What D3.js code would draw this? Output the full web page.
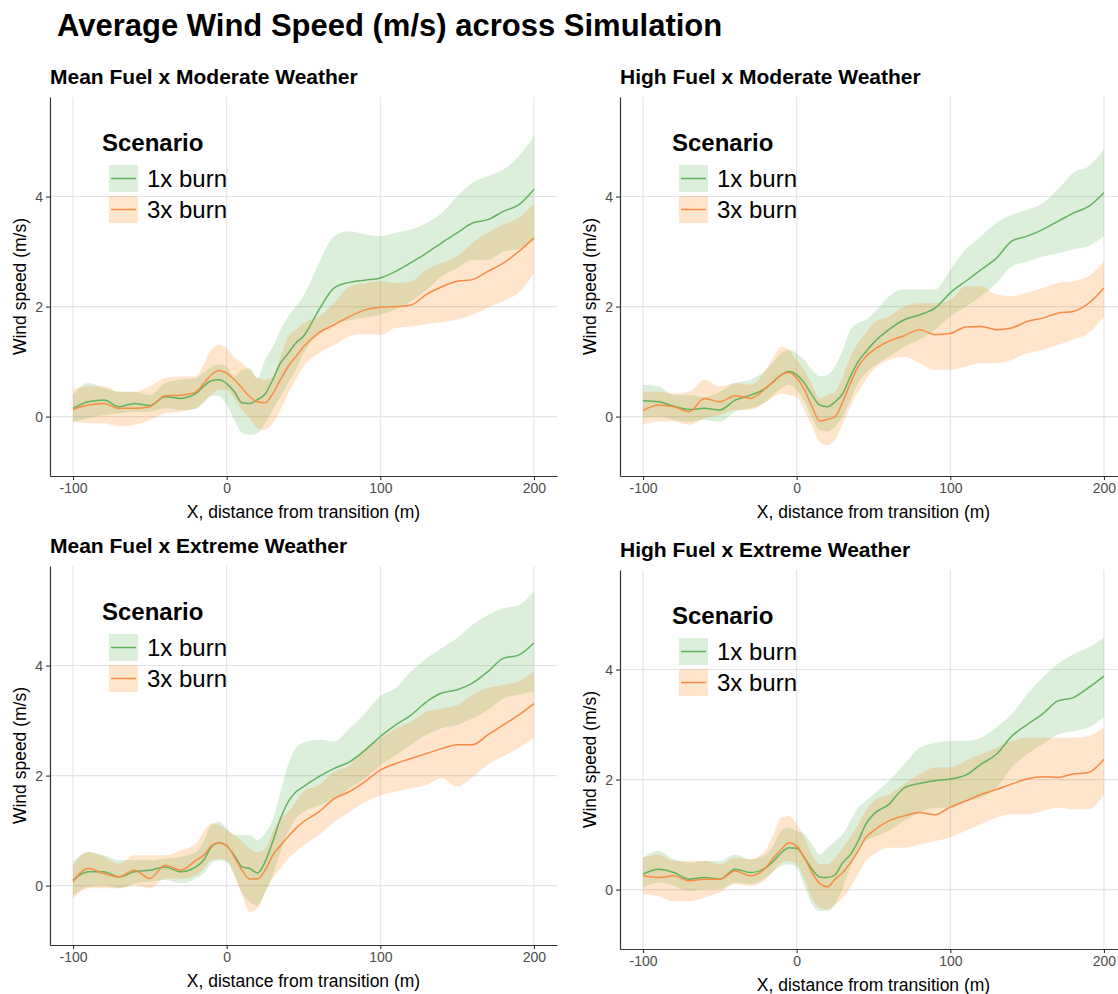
<!DOCTYPE html>
<html>
<head>
    <meta charset="utf-8">

    <!-- Load d3.js -->
    <script src="https://d3js.org/d3.v7.min.js"></script>

    <style>
        body {
            margin: 0;
            padding: 0;
            background: #ffffff;
        }

        text {
            font-family: "Liberation Sans", Arial, Helvetica, sans-serif;
        }
    </style>
</head>
<body>

<!-- Create a div where the graph will take place -->
<div id="my_dataviz"></div>

<script>
    var xs = [-100, -90, -80, -70, -60, -50, -40, -30, -20,
        -15, -10, -5, 0, 5, 10, 15, 20, 25, 30, 35, 40, 45, 50,
        60, 70, 80, 90, 100, 110, 120, 130, 140, 150, 160, 170, 180, 190, 200];

    var panelTitles = ["Mean Fuel x Moderate Weather", "High Fuel x Moderate Weather",
        "Mean Fuel x Extreme Weather", "High Fuel x Extreme Weather"];
    var scenarios = ["1x burn", "3x burn"];
    var xTicks = [-100, 0, 100, 200];
    var yTicks = [0, 2, 4];

    // Mean Fuel x Moderate Weather
    var p1_1x_mean = [0.15,0.27,0.30,0.18,0.24,0.20,0.36,0.33,0.42, 0.55,0.65,0.67,0.60,0.45,0.25,0.24,0.31,0.41,0.67,0.97,1.15,1.34,1.46, 1.94,2.34,2.44,2.48,2.52,2.64,2.80,2.97,3.16,3.34,3.52,3.58,3.73,3.85,4.13];
    var p1_1x_lo = [-0.09,-0.03,0.03,0.06,0.09,0.09,0.15,0.12,0.14, 0.25,0.38,0.38,0.21,-0.06,-0.30,-0.33,-0.30,-0.12,0.12,0.36,0.61,0.85,1.15, 1.50,1.70,1.75,1.80,1.85,1.95,2.10,2.30,2.55,2.70,2.85,2.85,3.00,3.05,3.20];
    var p1_1x_hi = [0.39,0.61,0.52,0.45,0.45,0.39,0.61,0.67,0.70, 0.80,0.90,0.95,0.90,0.73,0.85,0.88,0.70,1.03,1.27,1.58,1.82,2.00,2.19, 2.79,3.28,3.37,3.31,3.28,3.34,3.40,3.52,3.70,4.00,4.25,4.37,4.49,4.73,5.10];
    var p1_3x_mean = [0.13,0.21,0.24,0.15,0.15,0.18,0.38,0.39,0.45, 0.60,0.76,0.84,0.79,0.67,0.52,0.36,0.27,0.25,0.42,0.67,0.91,1.09,1.27, 1.52,1.67,1.82,1.94,1.99,2.00,2.03,2.22,2.36,2.46,2.49,2.64,2.79,3.00,3.25];
    var p1_3x_lo = [-0.09,-0.12,-0.12,-0.18,-0.15,-0.06,0.06,0.09,0.15, 0.27,0.39,0.49,0.49,0.33,0.12,-0.03,-0.21,-0.24,-0.12,0.12,0.42,0.67,0.91, 1.15,1.30,1.46,1.50,1.49,1.61,1.64,1.68,1.72,1.76,1.85,1.98,2.10,2.25,2.60];
    var p1_3x_hi = [0.49,0.55,0.55,0.45,0.45,0.55,0.70,0.73,0.73, 0.95,1.22,1.30,1.24,1.09,0.97,0.85,0.70,0.67,0.73,1.09,1.46,1.58,1.70, 1.82,2.06,2.37,2.43,2.46,2.43,2.46,2.67,2.79,2.91,3.16,3.34,3.49,3.61,3.88];

    // High Fuel x Moderate Weather
    var p2_1x_mean = [0.29,0.27,0.19,0.13,0.15,0.12,0.30,0.39,0.52, 0.64,0.76,0.82,0.76,0.61,0.39,0.21,0.18,0.27,0.42,0.73,1.00,1.18,1.34, 1.58,1.76,1.85,1.97,2.25,2.46,2.67,2.88,3.19,3.28,3.40,3.55,3.70,3.82,4.07];
    var p2_1x_lo = [-0.03,0.00,-0.06,-0.09,-0.06,-0.09,0.09,0.15,0.27, 0.40,0.52,0.58,0.49,0.27,-0.03,-0.24,-0.27,-0.18,0.00,0.30,0.61,0.79,0.91, 1.09,1.27,1.40,1.58,1.82,2.00,2.19,2.43,2.73,2.82,2.91,2.97,3.04,3.10,3.28];
    var p2_1x_hi = [0.58,0.55,0.39,0.39,0.36,0.45,0.61,0.67,0.85, 1.00,1.15,1.21,1.15,1.03,0.85,0.73,0.76,0.91,1.21,1.58,1.70,1.76,1.88, 2.19,2.31,2.31,2.31,2.67,3.04,3.28,3.52,3.67,3.76,3.88,4.13,4.43,4.55,4.86];
    var p2_3x_mean = [0.11,0.21,0.18,0.09,0.33,0.27,0.38,0.33,0.52, 0.64,0.76,0.80,0.70,0.49,0.18,-0.08,-0.05,0.00,0.27,0.61,0.91,1.09,1.21, 1.37,1.47,1.58,1.49,1.51,1.63,1.64,1.58,1.61,1.73,1.79,1.88,1.91,2.06,2.34];
    var p2_3x_lo = [-0.15,-0.09,-0.09,-0.15,-0.03,0.03,0.12,0.12,0.27, 0.36,0.42,0.39,0.36,0.12,-0.18,-0.46,-0.52,-0.42,-0.12,0.18,0.45,0.67,0.85, 1.03,1.09,0.97,0.85,0.85,0.91,0.97,0.97,1.03,1.15,1.21,1.30,1.40,1.52,1.82];
    var p2_3x_hi = [0.45,0.45,0.42,0.45,0.67,0.55,0.61,0.58,0.85, 1.09,1.27,1.21,1.03,0.85,0.58,0.33,0.39,0.45,0.73,1.09,1.34,1.52,1.70, 1.82,2.00,2.06,2.06,2.12,2.37,2.37,2.22,2.19,2.25,2.34,2.43,2.46,2.55,2.82];

    // Mean Fuel x Extreme Weather
    var p3_1x_mean = [0.10,0.25,0.25,0.16,0.25,0.28,0.34,0.25,0.34, 0.46,0.70,0.78,0.72,0.55,0.34,0.31,0.23,0.43,0.80,1.22,1.52,1.70,1.80, 1.98,2.13,2.25,2.46,2.71,2.92,3.10,3.34,3.50,3.56,3.68,3.89,4.13,4.19,4.41];
    var p3_1x_lo = [-0.18,-0.02,0.01,-0.05,0.04,0.07,0.10,0.04,0.13, 0.22,0.40,0.46,0.43,0.19,-0.12,-0.30,-0.36,-0.12,0.19,0.61,0.98,1.22,1.34, 1.46,1.58,1.77,1.95,2.19,2.37,2.56,2.74,2.86,2.92,3.04,3.19,3.40,3.47,3.53];
    var p3_1x_hi = [0.43,0.61,0.55,0.46,0.46,0.46,0.49,0.52,0.61, 0.80,1.10,1.16,1.04,0.92,0.92,0.92,0.83,0.95,1.20,1.70,2.20,2.50,2.60, 2.65,2.62,2.86,3.13,3.44,3.59,3.89,4.13,4.32,4.50,4.74,4.92,5.04,5.10,5.35];
    var p3_3x_mean = [0.07,0.31,0.22,0.16,0.28,0.13,0.37,0.28,0.46, 0.55,0.72,0.78,0.73,0.52,0.28,0.12,0.12,0.28,0.55,0.73,0.89,1.04,1.16, 1.34,1.58,1.71,1.89,2.10,2.22,2.31,2.40,2.49,2.56,2.56,2.74,2.92,3.10,3.31];
    var p3_3x_lo = [-0.24,-0.05,-0.05,-0.05,0.01,-0.05,0.13,0.13,0.19, 0.31,0.46,0.49,0.46,0.19,-0.18,-0.48,-0.42,-0.12,0.13,0.31,0.49,0.61,0.73, 0.92,1.16,1.34,1.52,1.64,1.71,1.77,1.83,1.95,1.80,1.97,2.20,2.35,2.50,2.68];
    var p3_3x_hi = [0.37,0.61,0.52,0.40,0.55,0.55,0.55,0.64,0.76, 0.98,1.13,1.10,1.01,0.92,0.80,0.67,0.61,0.67,0.98,1.22,1.34,1.52,1.71, 1.83,2.07,2.19,2.49,2.68,2.86,2.98,3.16,3.22,3.28,3.47,3.59,3.65,3.71,3.89];

    // High Fuel x Extreme Weather
    var p4_1x_mean = [0.28,0.37,0.31,0.19,0.22,0.19,0.37,0.31,0.40, 0.52,0.67,0.76,0.75,0.58,0.37,0.23,0.22,0.27,0.49,0.64,0.88,1.19,1.37, 1.55,1.85,1.93,1.98,2.01,2.08,2.28,2.46,2.79,3.00,3.19,3.43,3.49,3.67,3.88];
    var p4_1x_lo = [0.04,0.13,0.07,-0.02,0.01,0.01,0.13,0.10,0.22, 0.34,0.43,0.46,0.40,0.07,-0.27,-0.39,-0.39,-0.27,0.04,0.40,0.70,0.88,0.95, 1.07,1.25,1.40,1.49,1.49,1.61,1.67,1.85,2.22,2.46,2.64,2.82,2.88,2.95,3.13];
    var p4_1x_hi = [0.58,0.70,0.55,0.49,0.52,0.52,0.64,0.55,0.64, 0.82,1.07,1.13,1.07,1.01,0.82,0.64,0.76,0.88,1.01,1.25,1.49,1.61,1.73, 1.98,2.28,2.58,2.67,2.70,2.70,2.76,2.95,3.19,3.55,3.85,4.10,4.28,4.40,4.58];
    var p4_3x_mean = [0.25,0.22,0.25,0.16,0.19,0.19,0.34,0.25,0.40, 0.58,0.73,0.85,0.79,0.58,0.31,0.11,0.05,0.19,0.31,0.49,0.70,0.95,1.07, 1.25,1.34,1.40,1.36,1.50,1.61,1.73,1.82,1.92,2.01,2.05,2.04,2.10,2.13,2.37];
    var p4_3x_lo = [-0.08,-0.12,-0.21,-0.21,-0.15,-0.05,0.10,0.07,0.19, 0.34,0.49,0.52,0.46,0.19,-0.15,-0.33,-0.36,-0.27,-0.15,0.04,0.28,0.52,0.64, 0.76,0.76,0.82,0.88,0.95,1.07,1.19,1.31,1.37,1.37,1.43,1.49,1.46,1.46,1.73];
    var p4_3x_hi = [0.58,0.64,0.52,0.52,0.52,0.46,0.58,0.55,0.73, 1.01,1.31,1.34,1.19,0.95,0.64,0.46,0.46,0.58,0.76,0.95,1.19,1.43,1.61, 1.73,1.92,2.10,2.22,2.22,2.34,2.46,2.58,2.70,2.76,2.76,2.76,2.76,2.79,2.95];

    // build rows {x, mean, lo, hi} for one series
    function rows(mean, lo, hi) {
        return xs.map(function (x, i) { return { x: x, mean: mean[i], lo: lo[i], hi: hi[i] }; });
    }

    var panels = [
        [rows(p1_1x_mean, p1_1x_lo, p1_1x_hi), rows(p1_3x_mean, p1_3x_lo, p1_3x_hi)],
        [rows(p2_1x_mean, p2_1x_lo, p2_1x_hi), rows(p2_3x_mean, p2_3x_lo, p2_3x_hi)],
        [rows(p3_1x_mean, p3_1x_lo, p3_1x_hi), rows(p3_3x_mean, p3_3x_lo, p3_3x_hi)],
        [rows(p4_1x_mean, p4_1x_lo, p4_1x_hi), rows(p4_3x_mean, p4_3x_lo, p4_3x_hi)]
    ];

    // where each panel sits on the page
    var panelPos = [
        { left: 50, top: 97 },
        { left: 620, top: 97 },
        { left: 50, top: 566 },
        { left: 620, top: 570 }
    ];
    var pw = 507, ph = 379;

    var lineColor = d3.scaleOrdinal().domain(scenarios).range(["#62b25e", "#f88c44"]);
    var fillColor = d3.scaleOrdinal().domain(scenarios).range(["#4daf4a", "#ff7f00"]);

    var svg = d3.select("#my_dataviz")
        .append("svg")
        .attr("width", 1118)
        .attr("height", 994);

    // overall title
    svg.append("text")
        .attr("x", 57)
        .attr("y", 36)
        .style("font-size", "31px")
        .style("font-weight", "bold")
        .text("Average Wind Speed (m/s) across Simulation");

    var x = d3.scaleLinear().domain([-115, 215]).range([0, pw]);
    var y = d3.scaleLinear().domain([-1.08, 5.81]).range([ph, 0]);

    // plain integer labels with an ascii hyphen, like the original
    var plain = function (d) { return String(d); };

    var area = d3.area()
        .x(function (d) { return x(d.x); })
        .y0(function (d) { return y(d.lo); })
        .y1(function (d) { return y(d.hi); })
        .curve(d3.curveMonotoneX);

    var line = d3.line()
        .x(function (d) { return x(d.x); })
        .y(function (d) { return y(d.mean); })
        .curve(d3.curveMonotoneX);

    panels.forEach(function (series, p) {
        var g = svg.append("g")
            .attr("transform", "translate(" + panelPos[p].left + "," + panelPos[p].top + ")");

        // panel title, aligned with the plot area
        g.append("text")
            .attr("x", 0)
            .attr("y", -13)
            .style("font-size", "21px")
            .style("font-weight", "bold")
            .text(panelTitles[p]);

        // grid lines
        g.selectAll(".vgrid")
            .data(xTicks)
            .enter()
            .append("line")
            .attr("x1", function (d) { return x(d); })
            .attr("x2", function (d) { return x(d); })
            .attr("y1", 0)
            .attr("y2", ph)
            .style("stroke", "#e4e4e4")
            .style("stroke-width", 1.1);

        g.selectAll(".hgrid")
            .data(yTicks)
            .enter()
            .append("line")
            .attr("x1", 0)
            .attr("x2", pw)
            .attr("y1", function (d) { return y(d); })
            .attr("y2", function (d) { return y(d); })
            .style("stroke", "#e4e4e4")
            .style("stroke-width", 1.1);

        // ribbons first, then the lines
        series.forEach(function (s, i) {
            g.append("path")
                .datum(s)
                .attr("d", area)
                .style("fill", fillColor(scenarios[i]))
                .style("fill-opacity", 0.2)
                .style("stroke", "none");
        });

        series.forEach(function (s, i) {
            g.append("path")
                .datum(s)
                .attr("d", line)
                .style("fill", "none")
                .style("stroke", lineColor(scenarios[i]))
                .style("stroke-width", 1.5);
        });

        // axes
        var xAxis = g.append("g")
            .attr("transform", "translate(0," + ph + ")")
            .call(d3.axisBottom(x).tickValues(xTicks).tickFormat(plain)
                .tickSize(4).tickSizeOuter(0).tickPadding(3));

        var yAxis = g.append("g")
            .call(d3.axisLeft(y).tickValues(yTicks).tickFormat(plain)
                .tickSize(4).tickSizeOuter(0).tickPadding(3));

        [xAxis, yAxis].forEach(function (a) {
            a.select(".domain").style("stroke", "#333").style("stroke-width", 1.2);
            a.selectAll(".tick line").style("stroke", "#333").style("stroke-width", 1.1);
            a.selectAll(".tick text")
                .style("font-size", "14px")
                .style("fill", "#4d4d4d")
                .style("font-family", "'Liberation Sans', Arial, sans-serif");
        });

        // axis titles
        g.append("text")
            .attr("x", pw / 2)
            .attr("y", ph + 42)
            .attr("text-anchor", "middle")
            .style("font-size", "17.5px")
            .text("X, distance from transition (m)");

        g.append("text")
            .attr("transform", "translate(-24," + (ph / 2) + ") rotate(-90)")
            .attr("text-anchor", "middle")
            .style("font-size", "17.5px")
            .text("Wind speed (m/s)");

        // legend inside the panel
        var leg = g.append("g");
        leg.append("text")
            .attr("x", 52)
            .attr("y", 54)
            .style("font-size", "24px")
            .style("font-weight", "bold")
            .text("Scenario");

        scenarios.forEach(function (sc, i) {
            var ky = 68 + i * 31;
            leg.append("rect")
                .attr("x", 59)
                .attr("y", ky)
                .attr("width", 29)
                .attr("height", 27)
                .style("fill", fillColor(sc))
                .style("fill-opacity", 0.2);
            leg.append("line")
                .attr("x1", 61)
                .attr("x2", 86)
                .attr("y1", ky + 13.5)
                .attr("y2", ky + 13.5)
                .style("stroke", lineColor(sc))
                .style("stroke-width", 1.5);
            leg.append("text")
                .attr("x", 97)
                .attr("y", ky + 22)
                .style("font-size", "24px")
                .text(sc);
        });
    });
</script>
</body>
</html>
